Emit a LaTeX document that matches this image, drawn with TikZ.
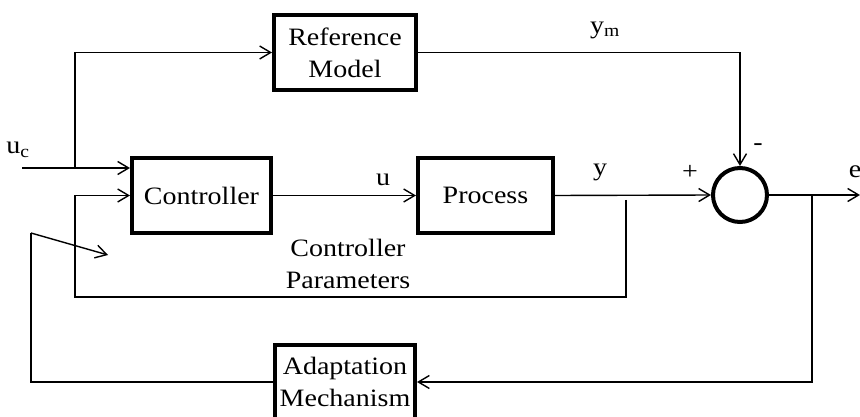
\documentclass[tikz,border=0pt]{standalone}
\usepackage{fontspec}
\setmainfont{Liberation Serif}[FakeStretch=1.12]
\usetikzlibrary{arrows.meta,positioning}

\begin{document}
\begin{tikzpicture}[
  x=1pt, y=-1pt,
  font=\fontsize{25}{32}\selectfont,
  >={Straight Barb[length=11pt,width=13pt]},
  block/.style={draw=black, line width=4pt,
    minimum height=75pt, align=center, inner sep=0pt},
  summer/.style={draw=black, circle, line width=4pt, minimum size=54pt,
    inner sep=0pt},
  signal/.style={->, draw=black, line width=1.4pt},
  wire/.style={draw=black, line width=1.4pt},
  tag/.style={inner sep=0pt, anchor=center}
]
\useasboundingbox (0,0) rectangle (860,417);
\fill[white] (0,0) rectangle (860,417);

\node[block, minimum width=142pt] (refm) at (345,52.5) {Reference\\Model};
\node[block, minimum width=139pt] (ctrl) at (201.5,195.5) {Controller};
\node[block, minimum width=135pt] (proc) at (485.5,195.5) {Process};
\node[block, minimum width=140pt] (adapt) at (345,382) {Adaptation\\Mechanism};
\node[summer] (sum) at (740,195) {};

\coordinate (ucin) at (22,168);
\coordinate (split) at (75,168);
\coordinate (ptap) at (626,200);
\coordinate (pcorner) at (75,297);
\coordinate (ebr) at (812,195);
\coordinate (eend) at (860,195);
\coordinate (tail) at (31,233);
\coordinate (tip) at (108,255);

% reference input
\draw[signal] (ucin) -- (ucin -| ctrl.west);
\draw[signal] (split) |- (refm.west);
\draw[signal] (ctrl.east) -- (proc.west);
\draw[signal] (proc.east) -- (sum.west);
\draw[signal] (refm.east) -| (sum.north);
\draw[signal] (sum.east) -- (eend);

% loops
\draw[signal] (ptap) |- (pcorner) |- (ctrl.west);
\draw[signal] (ebr) |- (adapt.east);
\draw[wire] (adapt.west) -| (tail);
\draw[signal] (tail) -- (tip);

\node[tag] (uclbl) at (18,150) {u\textsubscript{c}};
\node[tag] (ulbl) at (383,180) {u};
\node[tag] (ymlbl) at (605,30) {y\textsubscript{m}};
\node[tag] (ylbl) at (600,172) {y};
\node[tag] (plus) at (690,172) {+};
\node[tag] (minus) at (758,147) {-};
\node[tag] (elbl) at (855,172) {e};
\node[tag, align=center] (parlbl) at (348,264) {Controller\\Parameters};
\end{tikzpicture}
\end{document}
